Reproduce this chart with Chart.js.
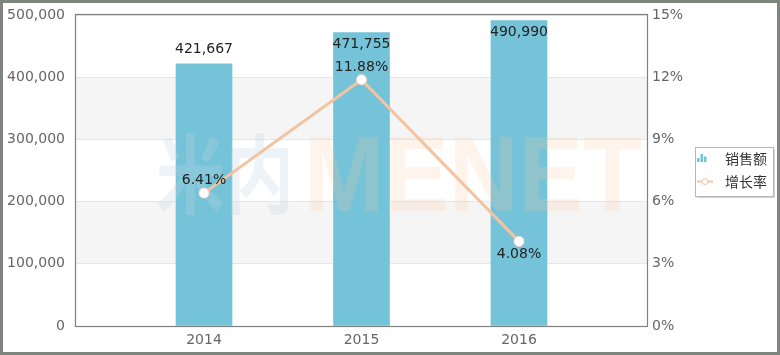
<!DOCTYPE html>
<html><head><meta charset="utf-8">
<script src="https://cdn.jsdelivr.net/npm/chart.js@4/dist/chart.umd.min.js"></script>
<style>html,body{margin:0;padding:0;background:#fff;}canvas{display:block;}</style>
</head><body>
<canvas id="c" width="780" height="355"></canvas>
<script>
const categories = ['2014', '2015', '2016'];
const sales = [421667, 471755, 490990];
const growth = [6.41, 11.88, 4.08];
const salesTicks = [0, 100000, 200000, 300000, 400000, 500000];
const growthTicks = [0, 3, 6, 9, 12, 15];
const seriesNames = ['销售额', '增长率'];

const BAR = '#75c3d9', LINE = '#f2c4a1';
const FONT = 'DejaVu Sans';
const CJK = '"Noto Sans CJK SC"';
const fmt = v => v.toLocaleString('en-US');

const decor = {
  id: 'decor',
  beforeDraw(chart) {
    const {ctx, chartArea: a, scales} = chart;
    ctx.save();
    ctx.fillStyle = '#fff';
    ctx.fillRect(0, 0, chart.width, chart.height);
    const y = scales.y;
    ctx.fillStyle = '#f5f5f5';
    [[100000, 200000], [300000, 400000]].forEach(([lo, hi]) => {
      const t = y.getPixelForValue(hi), b = y.getPixelForValue(lo);
      ctx.fillRect(a.left, t, a.right - a.left, b - t);
    });
    ctx.restore();
  },
  afterDatasetDraw(chart, args) {
    if (args.index !== 0) return;
    const {ctx} = chart;
    ctx.save();
    ctx.textBaseline = 'alphabetic';
    ctx.fillStyle = 'rgba(190,212,224,0.28)';
    ctx.font = 'bold 86px ' + CJK;
    ctx.fillText('米内', 156, 207, 138);
    ctx.fillStyle = 'rgba(250,200,155,0.20)';
    ctx.font = 'bold 108px "Liberation Sans"';
    ctx.fillText('MENET', 304, 211, 338);
    ctx.restore();
  },
  afterDatasetsDraw(chart) {
    const {ctx, chartArea: a} = chart;
    ctx.save();
    ctx.font = '14px ' + FONT;
    ctx.fillStyle = '#222';
    ctx.textAlign = 'center';
    ctx.textBaseline = 'middle';
    chart.getDatasetMeta(0).data.forEach((el, i) => {
      let cy = el.y - 14;
      if (cy - 7 < a.top) cy = el.y + 12;
      ctx.fillText(fmt(sales[i]), el.x, cy);
    });
    const pos = chart.options.plugins.decor.linePos;
    chart.getDatasetMeta(1).data.forEach((el, i) => {
      const cy = pos[i] === 'bottom' ? el.y + 12.5 : el.y - 12.5;
      ctx.fillText(growth[i].toFixed(2) + '%', el.x, cy);
    });
    ctx.restore();
  },
  afterDraw(chart) {
    const {ctx, chartArea: a} = chart;
    ctx.save();
    ctx.strokeStyle = '#808080';
    ctx.lineWidth = 1.2;
    ctx.strokeRect(Math.round(a.left) - 0.5, Math.round(a.top) - 0.5, Math.round(a.right - a.left) + 1, Math.round(a.bottom - a.top) + 1);
    ctx.strokeStyle = '#7e857f';
    ctx.lineWidth = 3;
    ctx.strokeRect(1.5, 1.5, chart.width - 3, chart.height - 3);
    const lx = 695, ly = 147, lw = 78, lh = 49;
    ctx.fillStyle = 'rgba(0,0,0,0.18)';
    ctx.fillRect(lx + 2, ly + 2, lw, lh);
    ctx.fillStyle = '#fff';
    ctx.fillRect(lx, ly, lw, lh);
    ctx.strokeStyle = '#b8b8b8';
    ctx.lineWidth = 1;
    ctx.strokeRect(lx + 0.5, ly + 0.5, lw, lh);
    ctx.fillStyle = BAR;
    ctx.fillRect(697, 158, 2.5, 4);
    ctx.fillRect(700.5, 154, 2.5, 8);
    ctx.fillRect(704, 156.5, 2.5, 5.5);
    ctx.strokeStyle = LINE;
    ctx.lineWidth = 2;
    ctx.beginPath(); ctx.moveTo(697, 181.5); ctx.lineTo(713, 181.5); ctx.stroke();
    ctx.beginPath(); ctx.arc(705, 181.5, 3, 0, Math.PI * 2);
    ctx.fillStyle = '#fff'; ctx.fill(); ctx.lineWidth = 1; ctx.stroke();
    ctx.fillStyle = '#333';
    ctx.font = '14px ' + CJK;
    ctx.textAlign = 'left';
    ctx.textBaseline = 'middle';
    ctx.fillText(seriesNames[0], 725, 158.5);
    ctx.fillText(seriesNames[1], 725, 181.5);
    ctx.restore();
  }
};

const tickFont = {family: FONT, size: 14};

new Chart(document.getElementById('c'), {
  data: {
    datasets: [
      {
        type: 'bar', label: seriesNames[0], yAxisID: 'y', order: 1,
        data: sales.map((v, i) => ({x: i, y: v})),
        backgroundColor: BAR, barThickness: 56
      },
      {
        type: 'line', label: seriesNames[1], yAxisID: 'y1', order: 0,
        data: growth.map((v, i) => ({x: i, y: v})),
        borderColor: LINE, borderWidth: 3, tension: 0,
        pointRadius: 5, pointBackgroundColor: '#fff', pointBorderColor: '#f6dccb', pointBorderWidth: 1
      }
    ]
  },
  options: {
    responsive: false, animation: false,
    layout: {padding: {top: 15, left: 0, right: 0, bottom: 0}},
    plugins: {legend: {display: false}, tooltip: {enabled: false}, decor: {linePos: ['top', 'top', 'bottom']}},
    scales: {
      x: {
        type: 'linear', min: -0.8127, max: 2.8127, offset: false,
        afterBuildTicks: s => { s.ticks = categories.map((c, i) => ({value: i})); },
        afterFit: s => { s.height = 29; s.paddingLeft = 0; s.paddingRight = 0; },
        grid: {display: false, drawTicks: false, offset: false}, border: {display: false},
        ticks: {padding: 6, color: '#666', font: tickFont, callback: v => categories[v] ?? ''}
      },
      y: {
        position: 'left', min: 0, max: 500000,
        afterBuildTicks: s => { s.ticks = salesTicks.map(v => ({value: v})); },
        afterFit: s => { s.width = 76; s.paddingTop = 0; s.paddingBottom = 0; },
        grid: {color: '#e6e6e6', drawTicks: false}, border: {display: false},
        ticks: {padding: 11, color: '#666', font: tickFont, callback: v => fmt(v)}
      },
      y1: {
        position: 'right', min: 0, max: 15,
        afterBuildTicks: s => { s.ticks = growthTicks.map(v => ({value: v})); },
        afterFit: s => { s.width = 133; s.paddingTop = 0; s.paddingBottom = 0; },
        grid: {display: false, drawTicks: false}, border: {display: false},
        ticks: {padding: 5, color: '#666', font: tickFont, callback: v => v + '%'}
      }
    }
  },
  plugins: [decor]
});
</script>
</body></html>
